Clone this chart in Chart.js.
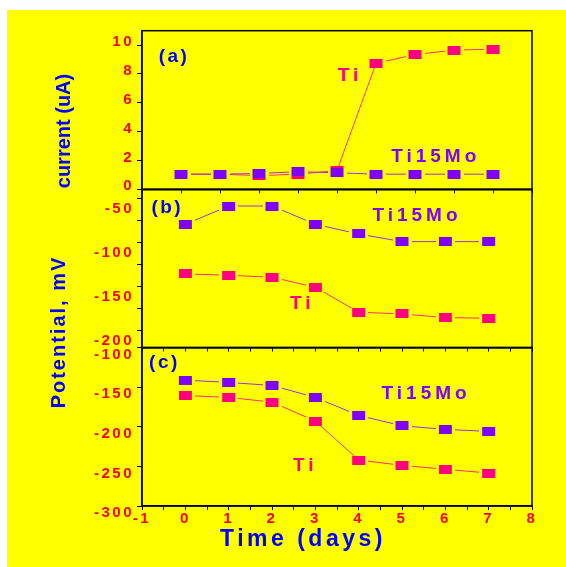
<!DOCTYPE html>
<html>
<head>
<meta charset="utf-8">
<script src="https://cdn.jsdelivr.net/npm/chart.js@4.4.1/dist/chart.umd.min.js"></script>
<style>
  body { margin: 0; width: 566px; height: 567px; background: #fff; position: relative; overflow: hidden;
         font-family: "Liberation Sans", Arial, sans-serif; }
  #bg { position: absolute; left: 7px; top: 10px; right: 0; bottom: 0; background: #ffff00; }
  canvas { position: absolute; left: 0; top: 0; }
  .title { position: absolute; color: #0000ff; font-weight: bold; white-space: nowrap; transform: translate(-50%, -50%); }
  .rot { transform: translate(-50%, -50%) rotate(-90deg); }
</style>
</head>
<body>
<div id="bg"></div>
<canvas id="panel-a" width="566" height="567"></canvas>
<canvas id="panel-b" width="566" height="567"></canvas>
<canvas id="panel-c" width="566" height="567"></canvas>
<div class="title rot" style="left:62.5px; top:131px; font-size:20px;">current (uA)</div>
<div class="title rot" style="left:57.5px; top:332px; font-size:20px; letter-spacing:2px;">Potential, mV</div>
<div class="title" style="left:303px; top:538px; font-size:23px; letter-spacing:3.5px;">Time (days)</div>
<script>
// values

// (a) current
const daysA = [0, 1, 2, 3, 4, 5, 6, 7, 8];
const currentTi15Mo = [1.05, 1.05, 1.1, 1.22, 1.15, 1.05, 1.05, 1.05, 1.05];
const currentTi = [1.05, 1.05, 0.95, 1.05, 1.3, 8.73, 9.35, 9.65, 9.72];

// (b) and (c) potential
const daysBC = [0, 1, 2, 3, 4, 5, 6, 7];
const potBTi15Mo = [-79.8, -59, -59, -79.8, -90.8, -99.5, -99.5, -99.5];
const potBTi = [-136.3, -137.7, -140, -151.4, -179.8, -181.7, -185.9, -186.6];
const potCTi15Mo = [-141.2, -144.1, -147.9, -163, -185.7, -198.8, -203.3, -205.9];
const potCTi = [-160.5, -163, -168.9, -192.9, -242, -248.7, -253.7, -258.4];

// tick labels
const yLabelsA = [0, 2, 4, 6, 8, 10];
const yLabelsB = [-50, -100, -150, -200];
const yLabelsC = [-100, -150, -200, -250, -300];
const xLabels = [-1, 0, 1, 2, 3, 4, 5, 6, 7, 8];

const purple = "#8000ff";
const pink = "#ff0080";
const red = "#ff0000";
const blue = "#0000ff";
const fontName = "'Liberation Sans', Arial, sans-serif";

// rectangle marker, with a bit of yellow either side so lines stop short of it
function marker(color) {
  const c = document.createElement("canvas");
  c.width = 19;
  c.height = 9;
  const g = c.getContext("2d");
  g.fillStyle = "#ffff00";
  g.fillRect(0, 0, 19, 9);
  g.fillStyle = color;
  g.fillRect(3, 0, 13, 9);
  return c;
}

function series(days, vals, color, lineColor) {
  return {
    data: days.map((d, i) => ({ x: d, y: vals[i] })),
    borderColor: lineColor,
    borderWidth: 1,
    pointStyle: marker(color),
    pointRadius: 6,
    pointHoverRadius: 6,
    tension: 0
  };
}

const fixWidth = w => s => { s.width = w; s.paddingTop = 0; s.paddingBottom = 0; };
const fixHeight = h => s => { s.height = h; s.paddingLeft = 0; s.paddingRight = 0; };

const panelPlugin = {
  id: "panel",
  beforeDraw(chart) {
    chart.ctx.letterSpacing = "2.5px";
  },
  afterDraw(chart, args, opts) {
    const { ctx, chartArea: a, scales } = chart;
    ctx.save();
    ctx.strokeStyle = "#000";
    ctx.lineWidth = 1.5;
    ctx.strokeRect(a.left, a.top, a.right - a.left, a.bottom - a.top);
    (opts.notes || []).forEach(n => {
      ctx.font = "bold " + n.size + "px " + fontName;
      ctx.letterSpacing = n.spacing + "px";
      ctx.fillStyle = n.color;
      ctx.textAlign = "center";
      ctx.textBaseline = "middle";
      ctx.fillText(n.text, scales.x.getPixelForValue(n.x) + n.spacing / 2, scales.y.getPixelForValue(n.y));
    });
    ctx.restore();
  }
};

const tickFont = { family: fontName, size: 15, weight: "bold" };

function yScale(min, max, labels, offset) {
  return {
    type: "linear",
    min: min,
    max: max,
    ticks: {
      stepSize: max - min > 50 ? 25 : 1,
      includeBounds: false,
      color: red,
      font: tickFont,
      padding: 3,
      labelOffset: offset,
      callback: v => labels.includes(v) ? String(v) : ""
    },
    grid: { drawOnChartArea: false, tickLength: 5, color: "#000", tickWidth: 1 },
    border: { color: "#000", width: 1.5 },
    afterFit: fixWidth(60)
  };
}

function xScale(max, step, showLabels, height) {
  return {
    type: "linear",
    min: -1,
    max: max,
    ticks: {
      stepSize: step,
      autoSkip: false,
      maxRotation: 0,
      color: red,
      font: tickFont,
      padding: 0,
      callback: v => showLabels && xLabels.includes(v) ? String(v) : ""
    },
    grid: { drawOnChartArea: false, tickLength: 4, color: "#000", tickWidth: 1 },
    border: { color: "#000", width: 1.5 },
    afterFit: fixHeight(height)
  };
}

function panel(id, datasets, scales, padding, notes) {
  return new Chart(id, {
    type: "line",
    data: { datasets: datasets },
    options: {
      responsive: false,
      animation: false,
      events: [],
      layout: { padding: padding },
      plugins: {
        legend: { display: false },
        tooltip: { enabled: false },
        panel: { notes: notes }
      },
      scales: scales
    },
    plugins: [panelPlugin]
  });
}

panel("panel-a",
  [series(daysA, currentTi15Mo, purple, "#9a30e8"), series(daysA, currentTi, pink, "#ff3070")],
  { x: xScale(9, 1, false, 6), y: yScale(0, 11, yLabelsA, -3) },
  { left: 82, right: 34, top: 30.7, bottom: 371.7 },
  [
    { text: "(a)", x: -0.21, y: 9.17, color: blue, size: 19, spacing: 2.5 },
    { text: "Ti", x: 4.28, y: 7.89, color: pink, size: 19, spacing: 4 },
    { text: "Ti15Mo", x: 6.48, y: 2.24, color: purple, size: 19, spacing: 4 }
  ]);

panel("panel-b",
  [series(daysBC, potBTi15Mo, purple, "#9a30e8"), series(daysBC, potBTi, pink, "#ff3070")],
  { x: xScale(8, 0.5, false, 6), y: yScale(-220, -40, yLabelsB, 11) },
  { left: 82, right: 34, top: 189.3, bottom: 213.4 },
  [
    { text: "(b)", x: -0.445, y: -60.7, color: blue, size: 19, spacing: 2.5 },
    { text: "Ti15Mo", x: 5.3, y: -69.8, color: purple, size: 19, spacing: 4 },
    { text: "Ti", x: 2.65, y: -170, color: pink, size: 19, spacing: 4 }
  ]);

panel("panel-c",
  [series(daysBC, potCTi15Mo, purple, "#9a30e8"), series(daysBC, potCTi, pink, "#ff3070")],
  { x: xScale(8, 0.5, true, 30), y: yScale(-300, -100, yLabelsC, 7) },
  { left: 82, right: 34, top: 347.5, bottom: 31 },
  [
    { text: "(c)", x: -0.51, y: -119.8, color: blue, size: 19, spacing: 2.5 },
    { text: "Ti15Mo", x: 5.51, y: -158.9, color: purple, size: 19, spacing: 4 },
    { text: "Ti", x: 2.72, y: -249.6, color: pink, size: 19, spacing: 4 }
  ]);
</script>
</body>
</html>
